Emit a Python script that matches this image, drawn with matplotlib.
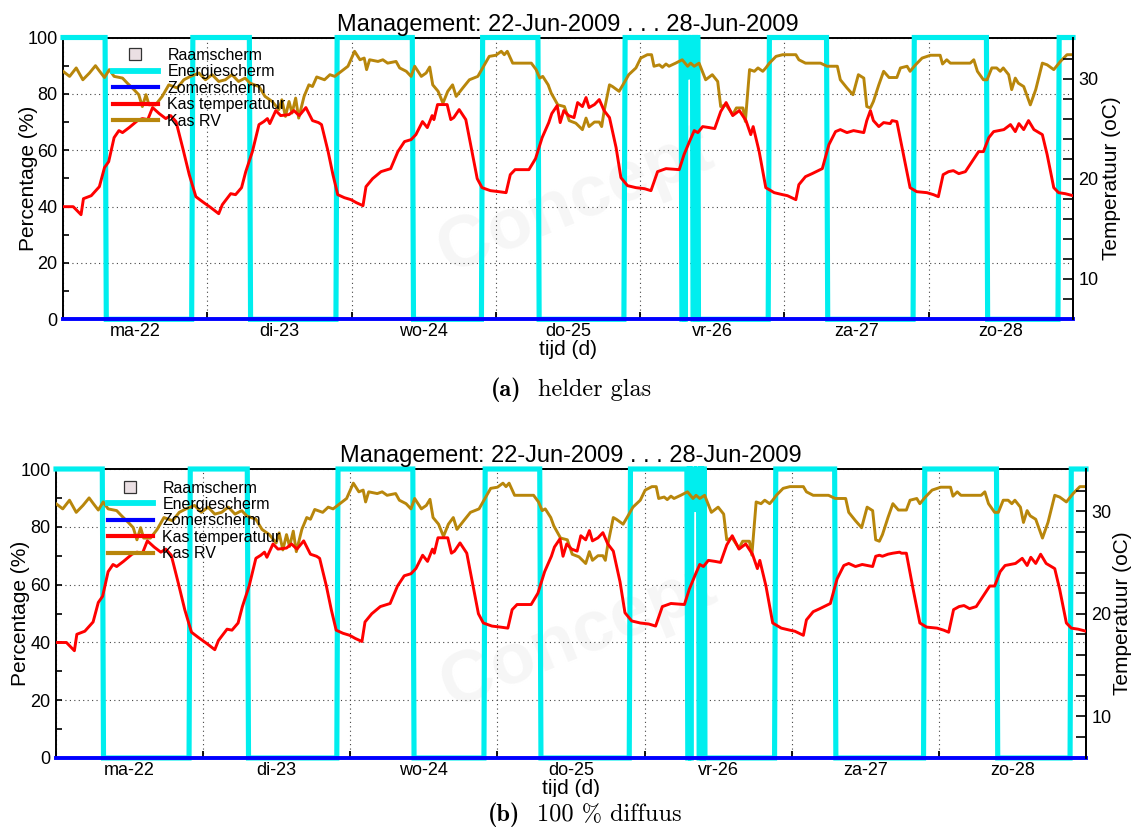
import matplotlib
matplotlib.use('Agg')
import matplotlib.pyplot as plt
from matplotlib.lines import Line2D
from matplotlib.patches import Rectangle
from matplotlib.offsetbox import TextArea, HPacker, AnnotationBbox
from matplotlib.ticker import FixedLocator, NullFormatter, FixedFormatter

plt.rcParams['font.family'] = ['Liberation Sans', 'DejaVu Sans']

# ---------------- data ----------------
day_ticks = [22, 23, 24, 25, 26, 27, 28, 29]
day_label_pos = [22.5, 23.5, 24.5, 25.5, 26.5, 27.5, 28.5]
day_labels = ['ma-22', 'di-23', 'wo-24', 'do-25', 'vr-26', 'za-27', 'zo-28']

# hours since 22-Jun-2009 00:00 -> Kas temperatuur (oC)
temp_h = [0, 1.7, 3.0, 3.4, 4.7, 6.05, 6.9, 7.6, 8.5, 9.3, 9.9, 11.0, 12.4, 13.2, 14.1, 14.9,
          16.0, 17.1, 17.9, 18.8, 19.9, 21.0, 22.1, 23.2, 24.6, 25.9, 26.5, 27.9, 28.7, 29.7,
          30.4, 31.5, 32.6, 33.4, 34.0, 34.4, 35.4, 36.2, 37.6, 38.4, 39.3, 40.4, 41.5, 42.5,
          43.0, 44.1, 44.9, 45.7, 46.8, 47.9, 48.8, 49.9, 50.4, 51.5, 52.9, 54.5, 55.7, 56.8,
          57.9, 58.7, 59.8, 60.6, 61.4, 61.7, 62.3, 63.1, 63.9, 64.5, 65.0, 65.9, 67.0, 67.8,
          68.9, 69.7, 71.1, 72.5, 73.7, 74.4, 75.2, 77.5, 78.6, 79.7, 80.8, 81.3, 82.2, 82.7,
          83.3, 84.1, 85.0, 85.6, 86.4, 87.0, 87.5, 88.4, 89.2, 90.0, 90.9, 92.0, 92.8, 93.9,
          95.3, 96.7, 97.8, 98.9, 100.3, 102.5, 103.3, 104.2, 105.0, 105.6, 106.4, 107.5, 108.4,
          109.4, 110.3, 111.4, 112.5, 113.6, 114.4, 114.8, 115.8, 116.9, 118.3, 119.7, 120.5,
          121.9, 122.4, 123.5, 124.6, 126.3, 127.4, 128.5, 129.3, 130.4, 131.5, 133.2, 133.7,
          134.3, 134.8, 135.7, 136.5, 137.6, 137.9, 138.7, 139.8, 140.9, 142.0, 143.7, 144.8,
          145.6, 146.4, 147.3, 148.1, 149.0, 150.1, 151.2, 152.3, 153.1, 154.0, 154.8, 156.5,
          157.6, 158.4, 159.0, 159.8, 160.6, 161.5, 162.9, 163.7, 164.8, 165.6, 166.7, 168.0]
# panel (a) helder glas
temp_a = [17.2, 17.2, 16.4, 18.0, 18.3, 19.2, 21.1, 21.7, 24.1, 24.8, 24.6, 25.1, 25.8, 26.0, 25.9, 27.1,
          26.5, 26.0, 26.3, 25.7, 23.1, 20.4, 18.2, 17.7, 17.1, 16.5, 17.4, 18.5, 18.4, 19.1,
          20.7, 22.7, 25.4, 25.7, 26.0, 25.5, 26.8, 26.3, 26.4, 26.8, 26.3, 27.1, 25.8, 25.6,
          25.4, 22.7, 20.4, 18.4, 18.1, 17.9, 17.6, 17.3, 19.2, 20.0, 20.7, 21.0, 22.7, 23.7,
          23.9, 24.4, 25.7, 25.1, 26.3, 25.9, 27.4, 27.4, 27.4, 25.9, 26.1, 26.9, 25.9, 23.4,
          20.0, 19.1, 18.8, 18.7, 18.6, 20.4, 20.9, 20.9, 22.0, 24.1, 25.6, 26.5, 27.3, 25.6,
          26.8, 26.3, 26.1, 27.6, 27.2, 28.1, 27.1, 27.4, 27.9, 26.8, 26.1, 23.1, 20.1, 19.3,
          19.1, 19.0, 18.8, 20.7, 21.0, 20.9, 22.4, 23.7, 24.8, 24.6, 25.2, 25.1, 25.0,
          26.7, 27.6, 26.3, 26.8, 25.8, 24.4, 25.2, 22.7, 19.1, 18.6, 18.4, 18.3,
          17.9, 19.4, 20.2, 20.5, 21.0, 23.4, 24.7, 24.9, 24.6, 24.8, 24.6, 25.8,
          26.8, 25.8, 25.2, 25.6, 25.5, 25.8, 25.7, 22.4, 19.1, 18.7, 18.6, 18.4,
          18.2, 20.4, 20.7, 20.8, 20.5, 20.7, 21.7, 22.7, 22.7, 24.1, 24.7, 24.9,
          25.4, 24.7, 25.5, 24.9, 25.8, 24.9, 24.4, 22.4, 19.1, 18.6, 18.5, 18.3]
# panel (b) 100 % diffuus
temp_b = [17.2, 17.2, 16.4, 18.0, 18.3, 19.2, 21.1, 21.7, 24.1, 24.8, 24.6, 25.1, 25.8, 26.0, 25.9, 27.1,
          26.5, 26.0, 26.3, 25.7, 23.1, 20.4, 18.2, 17.7, 17.1, 16.5, 17.4, 18.5, 18.4, 19.1,
          20.7, 22.7, 25.4, 25.7, 26.0, 25.5, 26.8, 26.3, 26.4, 26.8, 26.3, 27.1, 25.8, 25.6,
          25.4, 22.7, 20.4, 18.4, 18.1, 17.9, 17.6, 17.3, 19.2, 20.0, 20.7, 21.0, 22.7, 23.7,
          23.9, 24.4, 25.7, 25.1, 26.3, 25.9, 27.4, 27.4, 27.4, 25.9, 26.1, 26.9, 25.9, 23.4,
          20.0, 19.1, 18.8, 18.7, 18.6, 20.4, 20.9, 20.9, 22.0, 24.1, 25.6, 26.5, 27.3, 25.6,
          26.8, 26.3, 26.1, 27.6, 27.2, 28.1, 27.1, 27.4, 27.9, 26.8, 26.1, 23.1, 20.1, 19.3,
          19.1, 19.0, 18.8, 20.7, 21.0, 20.9, 22.4, 23.7, 24.8, 24.6, 25.2, 25.1, 25.0,
          26.7, 27.6, 26.3, 26.8, 25.8, 24.4, 25.2, 22.7, 19.1, 18.6, 18.4, 18.3,
          17.9, 19.4, 20.2, 20.5, 21.0, 23.4, 24.7, 24.9, 24.6, 24.8, 24.6, 25.6,
          25.7, 25.6, 25.8, 25.9, 26.0, 25.9, 25.9, 22.4, 19.1, 18.7, 18.6, 18.4,
          18.2, 20.4, 20.7, 20.8, 20.5, 20.7, 21.7, 22.7, 22.7, 24.1, 24.7, 24.9,
          25.4, 24.7, 25.5, 24.9, 25.8, 24.9, 24.4, 22.4, 19.1, 18.6, 18.5, 18.3]

# hours -> Kas RV (%)
rv_h = [0, 1.1, 2.2, 3.3, 4.4, 5.4, 6.1, 6.9, 7.7, 8.5, 9.9, 10.7, 11.8, 12.6, 13.2, 13.8, 14.3,
        15.4, 16.5, 17.6, 19.0, 20.1, 21.2, 22.6, 23.7, 24.8, 25.9, 27.0, 28.1, 29.2, 30.3,
        31.1, 32.6, 33.6, 34.8, 35.9, 36.4, 37.0, 37.6, 38.1, 38.7, 39.2, 40.1, 40.9, 41.5,
        42.2, 43.5, 44.4, 45.2, 46.3, 47.4, 48.5, 49.4, 50.1, 50.5, 51.0, 52.4, 53.2, 54.0,
        55.4, 56.0, 57.1, 57.9, 58.5, 59.6, 60.4, 61.0, 61.5, 62.4, 63.2, 64.0, 64.8, 65.4,
        66.5, 67.6, 69.0, 70.1, 70.9, 72.0, 72.9, 73.4, 73.9, 74.8, 77.9, 78.7, 79.3, 79.8,
        80.7, 81.2, 82.3, 83.4, 84.2, 85.3, 86.4, 87.0, 87.5, 88.4, 89.2, 89.6, 90.0, 90.9,
        91.4, 92.5, 93.3, 94.1, 95.3, 96.1, 97.2, 97.9, 98.3, 99.2, 99.7, 100.3, 100.8, 101.9,
        103.0, 103.9, 104.4, 105.0, 105.8, 106.9, 108.0, 108.9, 109.4, 110.3, 111.4, 112.0,
        113.1, 113.5, 114.2, 115.0, 115.6, 116.4, 116.9, 117.5, 118.6, 119.7, 121.9, 122.4,
        123.5, 126.0, 127.1, 128.0, 128.8, 129.3, 130.4, 131.4, 132.3, 133.2, 133.7, 134.3,
        134.8, 135.7, 136.5, 137.4, 138.7, 139.3, 140.4, 140.9, 141.8, 142.9, 144.3, 145.9,
        146.3, 147.0, 147.6, 150.9, 151.5, 152.1, 153.1, 153.7, 154.5, 155.3, 155.9, 156.4,
        157.3, 157.8, 158.4, 158.9, 159.8, 160.9, 161.8, 162.9, 163.7, 164.8, 165.9, 167.0, 168.0]
rv_a = [88.0, 86.2, 89.2, 85.0, 87.4, 90.0, 88.0, 85.8, 88.6, 86.2, 85.6, 83.8, 81.5, 79.7, 75.5, 79.7, 76.1,
        76.1, 79.1, 83.2, 82.1, 85.0, 86.2, 87.4, 85.0, 86.8, 84.4, 85.0, 86.8, 84.4, 85.6,
        83.8, 82.6, 79.1, 77.3, 74.4, 77.9, 72.0, 77.3, 73.2, 78.5, 71.4, 79.1, 83.2, 82.6,
        86.0, 85.0, 86.8, 86.2, 88.0, 89.8, 95.1, 92.1, 92.7, 88.6, 92.1, 91.5, 92.1, 90.9,
        91.5, 89.2, 88.0, 86.2, 89.8, 86.2, 87.4, 89.5, 83.2, 80.9, 76.7, 80.9, 83.2, 79.1,
        82.1, 85.0, 86.2, 90.3, 93.3, 93.7, 95.1, 93.9, 95.1, 90.9, 90.9, 88.6, 85.6, 86.2,
        83.2, 80.3, 76.1, 75.5, 70.5, 69.6, 67.3, 71.4, 68.4, 70.0, 70.0, 68.4, 73.8, 83.2,
        82.6, 80.9, 83.8, 86.8, 89.2, 92.7, 93.9, 93.9, 89.8, 90.3, 89.4, 90.6, 89.8, 90.9,
        92.1, 89.8, 90.9, 89.8, 90.9, 85.0, 86.8, 84.4, 75.5, 76.1, 72.6, 75.0,
        75.0, 70.2, 88.6, 88.0, 89.2, 88.0, 89.2, 90.9, 93.3, 93.9, 93.9, 92.1,
        90.9, 90.9, 89.8, 89.8, 89.8, 85.0, 82.1, 79.7, 86.8, 85.6, 75.5, 75.0,
        77.3, 83.2, 88.0, 85.8, 85.8, 89.2, 89.8, 88.0, 90.3, 92.7, 93.7, 93.7,
        90.6, 92.1, 90.9, 90.9, 92.1, 88.0, 85.0, 85.0, 89.2, 89.2, 88.0, 89.2,
        86.8, 81.5, 85.6, 83.8, 82.6, 76.1, 81.5, 90.9, 90.3, 88.6, 91.5, 93.9, 93.9]
rv_b = rv_a

# Energiescherm (%) vertices: hours and values
scr_h_a = [0, 7.0, 7.2, 21.4, 21.6, 31.0, 31.2, 45.4, 45.6, 58.1, 58.3, 69.6, 69.8, 79.0, 79.2,
           93.3, 93.5, 102.8, 102.95, 103.1, 103.2, 103.3, 103.4, 103.5, 103.6, 104.0, 104.1,
           104.3, 104.4, 104.7, 104.8, 104.95, 105.05, 105.2, 105.3, 105.45, 105.55, 105.6, 105.7,
           117.3, 117.5, 127.0, 127.2, 141.4, 141.6, 153.6, 153.8, 165.5, 165.7, 168.0]
scr_h_b = [0, 7.55, 7.75, 21.7, 21.9, 31.2, 31.4, 45.8, 46.0, 58.2, 58.4, 69.8, 70.0, 78.9, 79.1,
           93.5, 93.7, 102.9, 103.05, 103.2, 103.3, 103.4, 103.5, 103.6, 103.7, 104.1, 104.2,
           104.4, 104.5, 104.8, 104.9, 105.05, 105.15, 105.3, 105.4, 105.55, 105.65, 105.75, 105.85,
           117.2, 117.4, 127.0, 127.2, 141.5, 141.7, 153.4, 153.6, 165.4, 165.6, 168.0]
scr_v = [100, 100, 0, 0, 100, 100, 0, 0, 100, 100, 0, 0, 100, 100, 0,
         0, 100, 100, 0, 0, 100, 100, 0, 0, 100, 100, 86,
         86, 100, 100, 0, 0, 100, 100, 0, 0, 100, 100, 0,
         0, 100, 100, 0, 0, 100, 100, 0, 0, 100, 100]

zomer_h = [0, 168]
zomer = [0, 0]
raam_h = []
raam = []

# ---------------- style ----------------
C_CYAN = '#00EEEE'
C_BLUE = '#0000FF'
C_RED = '#FF0000'
C_GOLD = '#B8860B'
FS_TICK = 13
FS_LAB = 15


def to_day(hours):
    return [22 + h / 24.0 for h in hours]


def panel(fig, rect, temp, rv, scr_h, leg_anchor, ylab_x, y2lab_x):
    ax = fig.add_axes(rect)
    ax2 = ax.twinx()

    ax.text(25.55, 42, 'Concept', fontsize=52, color='#f6f6f6', rotation=22,
            ha='center', va='center', fontweight='bold', zorder=0)

    ax.plot(to_day(raam_h), raam, linestyle='none', marker='s')
    ax.plot(to_day(scr_h), scr_v, color=C_CYAN, lw=3.7, clip_on=False, zorder=3,
            solid_joinstyle='miter')
    ax.plot(to_day(zomer_h), zomer, color=C_BLUE, lw=2.8, clip_on=False, zorder=4)
    ax.plot(to_day(rv_h), rv, color=C_GOLD, lw=2.1, zorder=5)
    ax2.plot(to_day(temp_h), temp, color=C_RED, lw=2.1, zorder=5)

    ax.set_xlim(22, 29)
    ax.set_ylim(0, 100)
    ax2.set_ylim(5.95, 34.1)

    ax.xaxis.set_major_locator(FixedLocator(day_ticks))
    ax.xaxis.set_major_formatter(NullFormatter())
    ax.xaxis.set_minor_locator(FixedLocator(day_label_pos))
    ax.xaxis.set_minor_formatter(FixedFormatter(day_labels))
    ax.tick_params(axis='x', which='minor', length=0, labelsize=FS_TICK, pad=3)
    ax.tick_params(axis='x', which='major', direction='in', length=5, width=1.3)

    ax.set_yticks([0, 20, 40, 60, 80, 100])
    ax.set_yticks([10, 30, 50, 70, 90], minor=True)
    ax.tick_params(axis='y', which='both', direction='in', length=4, width=1.2,
                   labelsize=FS_TICK, pad=4)
    ax2.set_yticks([10, 20, 30])
    ax2.set_yticks([8, 12, 14, 16, 18, 22, 24, 26, 28, 32], minor=True)
    ax2.tick_params(axis='y', which='both', direction='in', length=7, width=1.2,
                    labelsize=FS_TICK, pad=4)

    ax.grid(True, which='major', linestyle=(0, (1, 3)), color='#444444', lw=0.8)

    for a in (ax, ax2):
        for sp in a.spines.values():
            sp.set_linewidth(1.4)
    ax2.spines['left'].set_visible(False)
    ax2.spines['bottom'].set_visible(False)
    ax2.spines['top'].set_visible(False)

    ax.set_ylabel('Percentage (%)', fontsize=FS_LAB)
    ax.yaxis.set_label_coords(ylab_x, 0.5)
    ax2.set_ylabel('Temperatuur (oC)', fontsize=FS_LAB)
    ax2.yaxis.set_label_coords(y2lab_x, 0.5)
    ax.set_xlabel('tijd (d)', fontsize=FS_LAB, labelpad=0)
    ax.set_title('Management: 22-Jun-2009 . . . 28-Jun-2009', fontsize=17, pad=5)

    h_raam = Line2D([], [], linestyle='none', marker='s', markersize=8,
                    markerfacecolor='#EADFE3', markeredgecolor='#333333', markeredgewidth=0.9)
    h_en = Line2D([], [], color=C_CYAN, lw=4.2)
    h_zo = Line2D([], [], color=C_BLUE, lw=3.0)
    h_t = Line2D([], [], color=C_RED, lw=3.0)
    h_rv = Line2D([], [], color=C_GOLD, lw=3.0)
    leg = ax2.legend([h_raam, h_en, h_zo, h_t, h_rv],
                     ['Raamscherm', 'Energiescherm', 'Zomerscherm', 'Kas temperatuur', 'Kas RV'],
                     loc='upper left', bbox_to_anchor=leg_anchor, frameon=False,
                     borderpad=0, borderaxespad=0, handlelength=2.8, handletextpad=0.6,
                     labelspacing=0.09, fontsize=11.5)
    leg.set_zorder(10)
    return ax, ax2


W, H = 1133, 827
fig = plt.figure(figsize=(W / 100, H / 100), dpi=100)

panel(fig, [63 / W, 1 - 319.3 / H, 1010 / W, 281.8 / H],
      temp_a, rv_a, scr_h_a, (0.0495, 0.963), -0.0248, 1.0287)
panel(fig, [56 / W, 1 - 758 / H, 1030 / W, 289 / H],
      temp_b, rv_b, scr_h_b, (0.0505, 0.960), -0.0251, 1.0265)

fig.patches.append(Rectangle((0, 0), 1, 1 - 797 / H, transform=fig.transFigure,
                             facecolor='white', edgecolor='none', zorder=1))


def caption(tag, txt, x, y):
    t1 = TextArea(tag, textprops=dict(family=['cmb10', 'DejaVu Serif'], fontsize=17.5))
    t2 = TextArea(txt, textprops=dict(family=['cmr10', 'DejaVu Serif'], fontsize=17.5))
    box = HPacker(children=[t1, t2], align='baseline', pad=0, sep=12)
    ab = AnnotationBbox(box, (x / W, 1 - y / H), xycoords='figure fraction',
                        frameon=False, box_alignment=(0.5, 0.5), zorder=2)
    fig.add_artist(ab)


caption('(a)', 'helder glas', 571, 390)
caption('(b)', '100 % diffuus', 585, 815)

fig.savefig('out.png', dpi=100)
